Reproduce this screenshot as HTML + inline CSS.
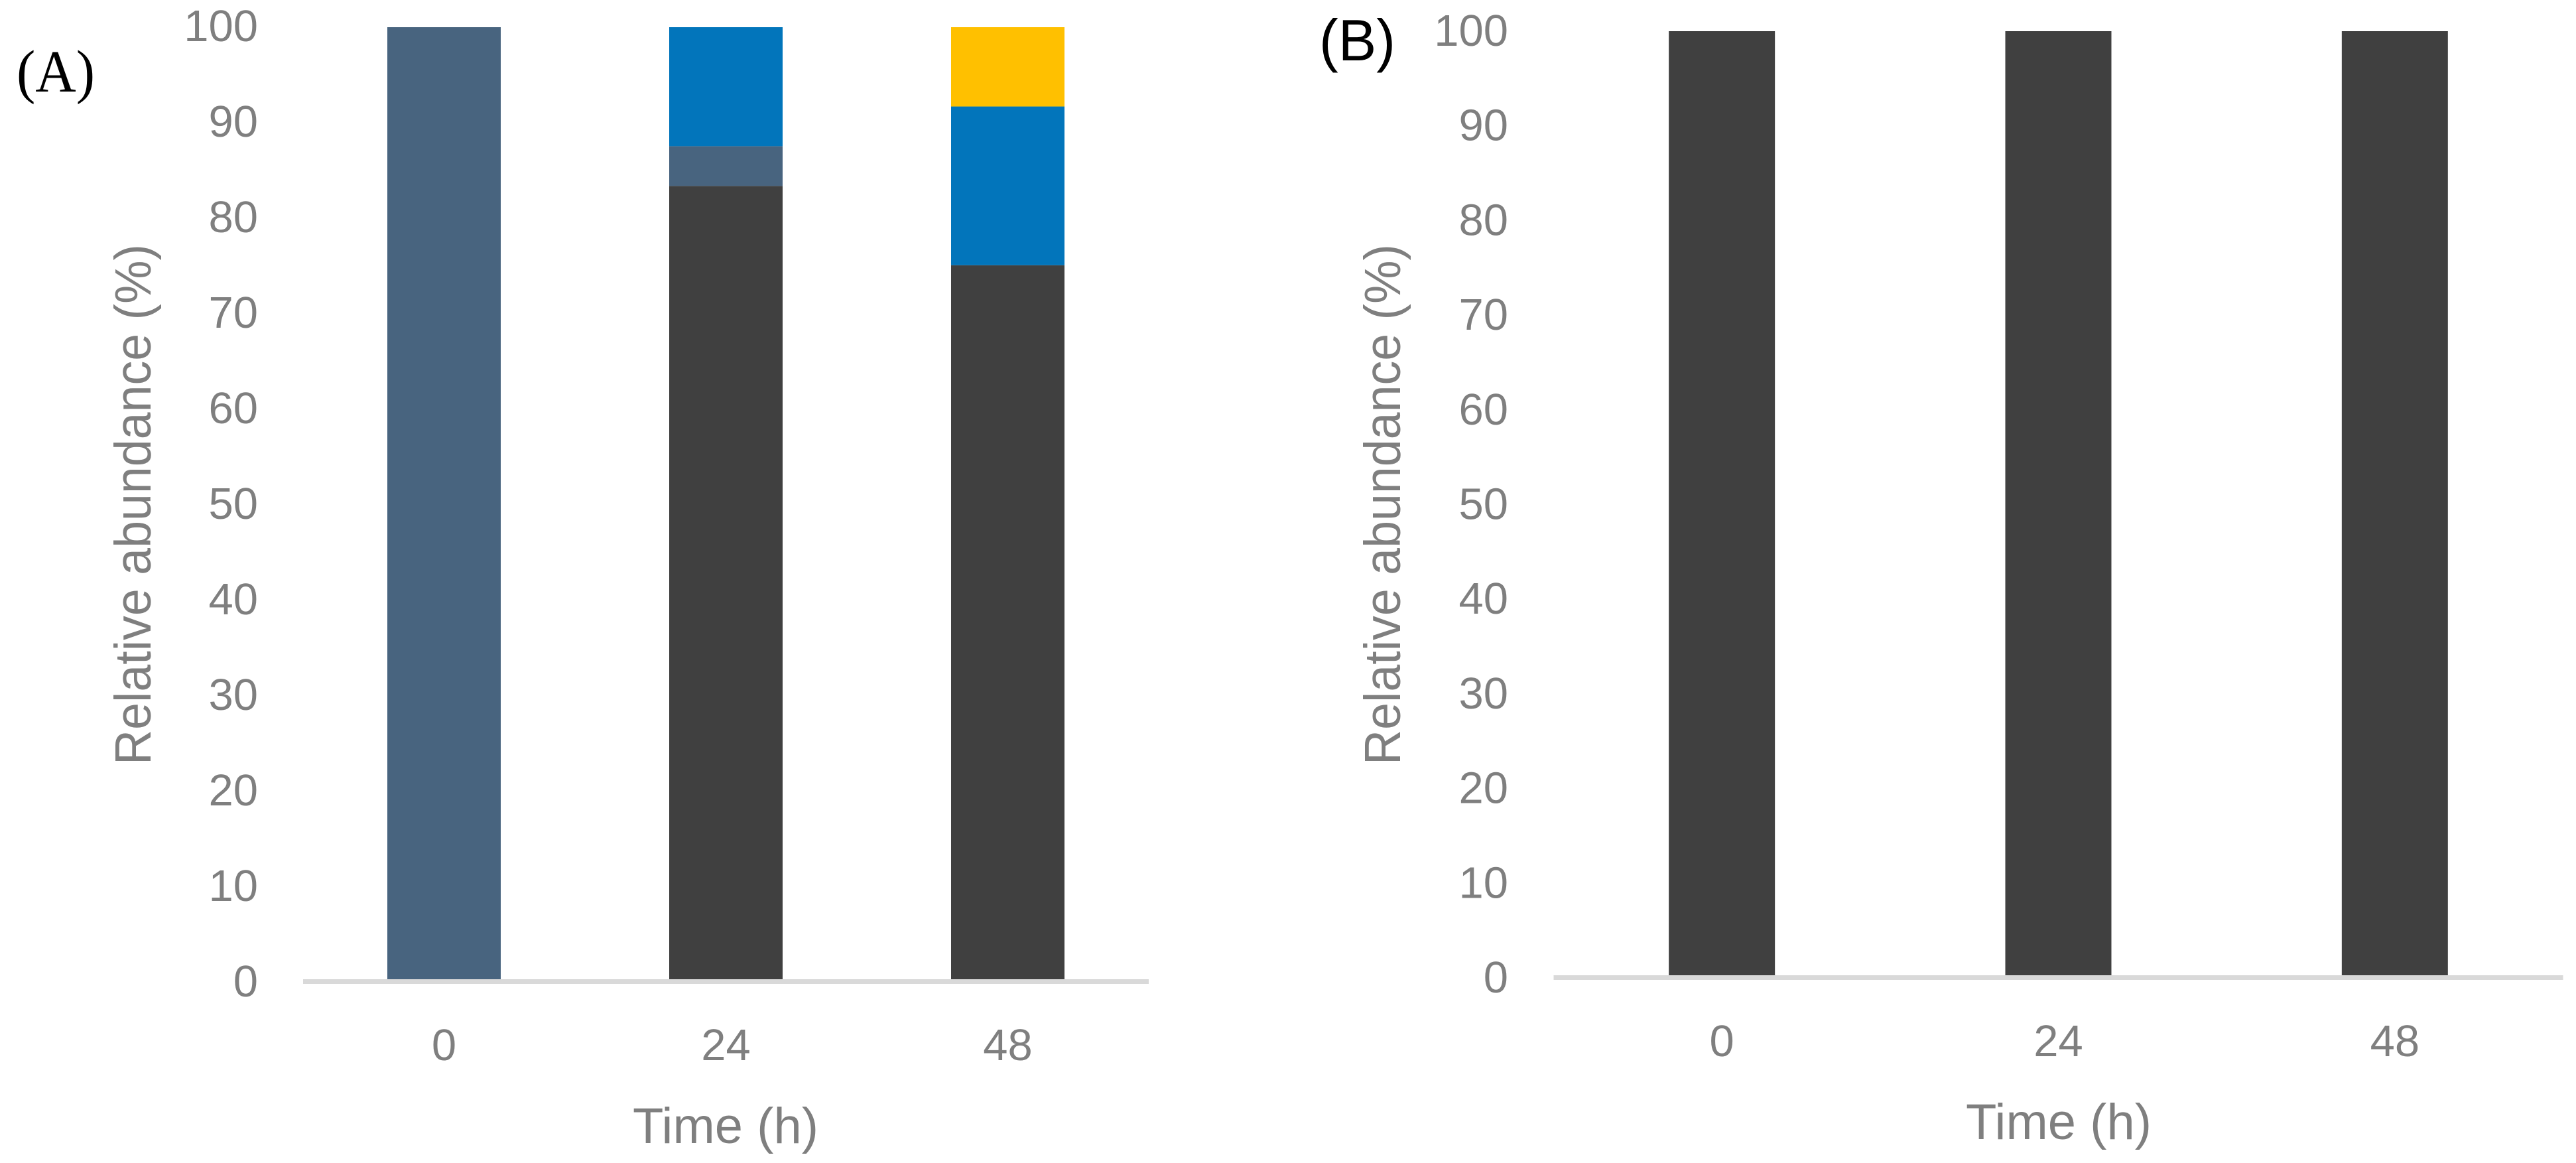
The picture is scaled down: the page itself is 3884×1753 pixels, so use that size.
<!DOCTYPE html>
<html lang="en">
<head>
<meta charset="utf-8">
<title>Relative abundance over time</title>
<style>
html,body{margin:0;padding:0;background:#fff;}
svg{display:block;}
text{font-family:"Liberation Sans",sans-serif;fill:#7f7f7f;}
</style>
</head>
<body>
<svg id="figure" xmlns="http://www.w3.org/2000/svg" width="3884" height="1753" viewBox="0 0 3884 1753">
  <rect x="0" y="0" width="3884" height="1753" fill="#ffffff"/>
  <text x="25" y="138" font-size="90" textLength="118" lengthAdjust="spacingAndGlyphs" style="font-family:'Liberation Serif',serif;fill:#000">(A)</text>
  <text x="1989" y="91" font-size="88" textLength="115" lengthAdjust="spacingAndGlyphs" style="fill:#000">(B)</text>
  <text transform="translate(227,1153) rotate(-90)" font-size="77" textLength="785" lengthAdjust="spacingAndGlyphs">Relative abundance (%)</text>
  <text transform="translate(2111,1153) rotate(-90)" font-size="77" textLength="785" lengthAdjust="spacingAndGlyphs">Relative abundance (%)</text>
  <text x="1094" y="1723" font-size="76" text-anchor="middle">Time (h)</text>
  <text x="3104" y="1717" font-size="76" text-anchor="middle">Time (h)</text>
</svg>
<script>
const categories = ["0", "24", "48"];
const yTickValues = [0, 10, 20, 30, 40, 50, 60, 70, 80, 90, 100];

const panelADark = [0, 83.33, 75];
const panelASlate = [100, 4.17, 0];
const panelABlue = [0, 12.5, 16.67];
const panelAYellow = [0, 0, 8.33];

const panelBDark = [100, 100, 100];

const SVG_NS = "http://www.w3.org/2000/svg";
const figure = document.getElementById("figure");

function drawPanel(panel) {
  const yScale = v => panel.plotBottom - v * (panel.plotBottom - panel.plotTop) / 100;
  const xCenter = i => panel.plotLeft + (i + 0.5) * (panel.plotRight - panel.plotLeft) / categories.length;
  const tickBaseline = v => panel.tickZeroBaseline - v * panel.tickStep;

  yTickValues.forEach(v => {
    const t = document.createElementNS(SVG_NS, "text");
    
    
    t.setAttribute("x", panel.tickRight);
    t.setAttribute("y", tickBaseline(v));
    t.setAttribute("font-size", 67);
    t.setAttribute("text-anchor", "end");
    t.textContent = String(v);
    figure.appendChild(t);
  });

  categories.forEach((cat, i) => {
    let cumulative = 0;
    panel.series.forEach(s => {
      const value = s.values[i];
      if (value > 0) {
        const r = document.createElementNS(SVG_NS, "rect");
        
        
        const top = yScale(cumulative + value);
        r.setAttribute("x", xCenter(i) - panel.barWidth / 2);
        r.setAttribute("y", top);
        r.setAttribute("width", panel.barWidth);
        r.setAttribute("height", yScale(cumulative) - top);
        r.setAttribute("fill", s.color);
        figure.appendChild(r);
      }
      cumulative += value;
    });

    const label = document.createElementNS(SVG_NS, "text");
    
    
    label.setAttribute("x", xCenter(i));
    label.setAttribute("y", panel.xTickBaseline);
    label.setAttribute("font-size", 67);
    label.setAttribute("text-anchor", "middle");
    label.textContent = cat;
    figure.appendChild(label);
  });

  const axis = document.createElementNS(SVG_NS, "rect");
  
  
  axis.setAttribute("x", panel.plotLeft);
  axis.setAttribute("y", panel.plotBottom);
  axis.setAttribute("width", panel.plotRight - panel.plotLeft);
  axis.setAttribute("height", 7);
  axis.setAttribute("fill", "#d9d9d9");
  figure.appendChild(axis);
}

drawPanel({
  plotLeft: 457, plotRight: 1732, plotTop: 41, plotBottom: 1476,
  barWidth: 171, tickRight: 389, tickZeroBaseline: 1502, tickStep: 14.4, xTickBaseline: 1598,
  series: [
    { values: panelADark, color: "#404040" },
    { values: panelASlate, color: "#48647f" },
    { values: panelABlue, color: "#0275bb" },
    { values: panelAYellow, color: "#ffc000" }
  ]
});

drawPanel({
  plotLeft: 2342.5, plotRight: 3864.5, plotTop: 47, plotBottom: 1470,
  barWidth: 160, tickRight: 2274, tickZeroBaseline: 1496, tickStep: 14.27, xTickBaseline: 1592,
  series: [
    { values: panelBDark, color: "#404040" }
  ]
});
</script>
</body>
</html>
